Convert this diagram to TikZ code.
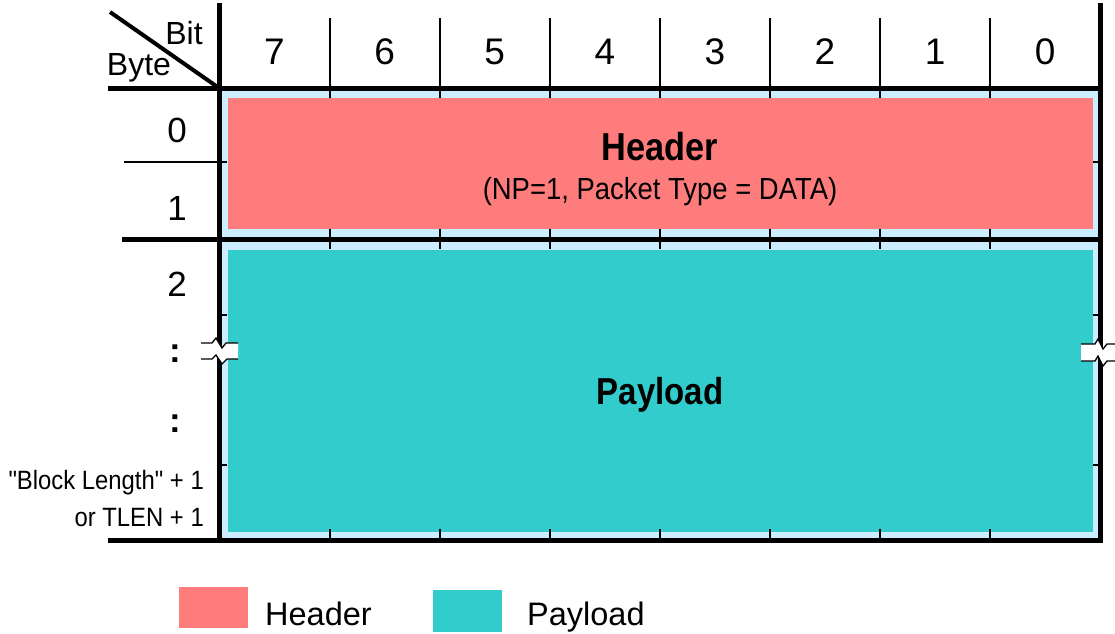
\documentclass[tikz,border=0pt]{standalone}
\usepackage{fontspec}
\setmainfont{Liberation Sans}
\newfontfamily\narrowfont[FakeStretch=0.88]{Liberation Sans}
\newfontfamily\subfont[FakeStretch=0.9]{Liberation Sans}
\definecolor{hdr}{HTML}{FF7C7C}
\definecolor{pay}{HTML}{33CCCC}
\definecolor{lblue}{HTML}{CCECFF}
\begin{document}
\begin{tikzpicture}[x=1pt,y=-1pt,
  thickline/.style={line width=5pt,line cap=rect},
  thinline/.style={line width=1.8pt},
  bitnum/.style={font=\fontsize{37}{40}\selectfont,inner sep=0},
  rownum/.style={font=\fontsize{35}{40}\selectfont,inner sep=0},
  corner/.style={font=\fontsize{32}{34}\selectfont,inner sep=0},
  bigbold/.style={font=\narrowfont\bfseries\fontsize{39}{42}\selectfont,inner sep=0},
  sublabel/.style={font=\subfont\fontsize{30.5}{34}\selectfont,inner sep=0},
  sidelabel/.style={font=\subfont\fontsize{26.5}{37}\selectfont,inner sep=0,align=right,anchor=east},
  legtext/.style={font=\fontsize{32.5}{36}\selectfont,inner sep=0,anchor=base west},
  breakmark/.style={fill=white,draw=none},
  breakline/.style={line width=1.3pt}]
\useasboundingbox (0,0) rectangle (1115,633);
% light blue background
\fill[lblue] (219,88) rectangle (1100,540);
% colored areas
\node[fill=hdr,draw=none,minimum width=865pt,minimum height=131pt,inner sep=0,anchor=north west] (hbox) at (228,98) {};
\node[fill=pay,draw=none,minimum width=865pt,minimum height=282pt,inner sep=0,anchor=north west] (pbox) at (228,250) {};
% column separators
\foreach \c in {330,440,550,660,770,880,990}{
  \draw[thinline] (\c,18) -- (\c,98);
  \draw[thinline] (\c,229) -- (\c,249);
  \draw[thinline] (\c,529) -- (\c,540);
}
% row ticks
\draw[thinline] (124,162) -- (227,162);
\foreach \r in {315,465}{
  \draw[thinline] (219,\r) -- (227,\r);
  \draw[thinline] (1093,\r) -- (1100,\r);
}
\draw[thinline] (1093,162) -- (1100,162);
% thick frame lines
\draw[thickline] (219,5) -- (219,540);
\draw[thickline] (1100,5) -- (1100,540);
\draw[thickline] (110,88) -- (1100,88);
\draw[thickline] (124,239) -- (1100,239);
\draw[thickline] (110,540) -- (1100,540);
\draw[line width=4pt] (110,12) -- (219,88);
% corner labels
\node[corner] (bit) at (184,33) {Bit};
\node[corner] (byte) at (139,68) {Byte};
% bit numbers
\foreach \n [count=\i from 0] in {7,6,5,4,3,2,1,0}{
  \node[bitnum] (b\n) at ({274.5+110.1*\i},52) {\n};
}
% row labels
\node[rownum] (r0) at (177,130) {0};
\node[rownum] (r1) at (177,208) {1};
\node[rownum] (r2) at (177,284) {2};
\node[rownum,font=\bfseries\fontsize{35}{40}\selectfont] (d1) at (175,354) {:};
\node[rownum,font=\bfseries\fontsize{35}{40}\selectfont] (d2) at (175,424) {:};
\node[sidelabel] (blk) at (204,499) {"Block Length" + 1\\or TLEN + 1};
% box labels
\node[bigbold] (htitle) at (660,147) {Header};
\node[sublabel] (hsub) at (660,192) {(NP=1, Packet Type = DATA)};
\node[bigbold,font=\narrowfont\bfseries\fontsize{37.5}{42}\selectfont] (ptitle) at (660,395) {Payload};
% break marks
\fill[breakmark] (201,343) -- (212,343) -- (216,338) -- (222,348) -- (226,343) -- (238,343)
  -- (238,359) -- (227,359) -- (222,364) -- (216,355) -- (212,359) -- (201,359) -- cycle;
\draw[breakline] (201,343) -- (212,343) -- (216,338) -- (222,348) -- (226,343) -- (238,343);
\draw[breakline] (201,359) -- (212,359) -- (216,355) -- (222,364) -- (227,359) -- (238,359);
\fill[breakmark] (1081,344) -- (1095,344) -- (1098,339) -- (1103,349) -- (1107,344) -- (1115,344)
  -- (1115,361) -- (1107,361) -- (1103,366) -- (1098,356) -- (1095,361) -- (1081,361) -- cycle;
\draw[breakline] (1081,344) -- (1095,344) -- (1098,339) -- (1103,349) -- (1107,344) -- (1115,344);
\draw[breakline] (1081,361) -- (1095,361) -- (1098,356) -- (1103,366) -- (1107,361) -- (1115,361);
% legend
\node[fill=hdr,minimum width=69pt,minimum height=41pt,inner sep=0,anchor=north west] (lh) at (179,587) {};
\node[legtext] (lht) at (265,625) {Header};
\node[fill=pay,minimum width=69pt,minimum height=42pt,inner sep=0,anchor=north west] (lp) at (433,590) {};
\node[legtext] (lpt) at (527,625) {Payload};
\end{tikzpicture}
\end{document}
